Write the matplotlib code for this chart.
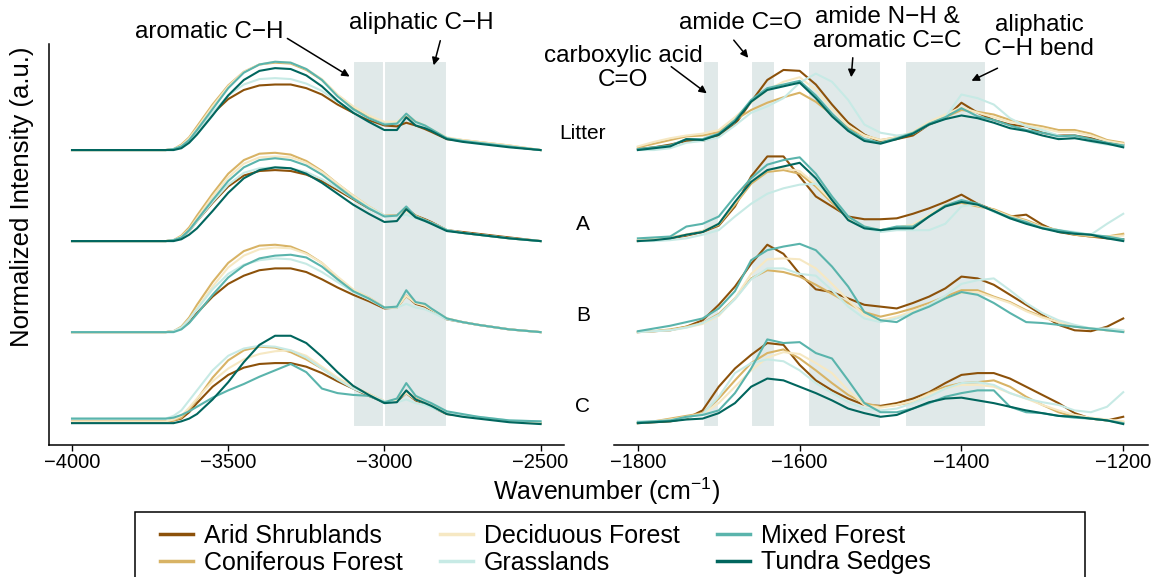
import matplotlib.pyplot as plt
from matplotlib.lines import Line2D
from matplotlib.patches import Rectangle, FancyArrowPatch

plt.rcParams['font.family'] = ['Liberation Sans', 'DejaVu Sans']
plt.rcParams['mathtext.fontset'] = 'custom'
plt.rcParams['mathtext.rm'] = 'Liberation Sans'

# ---- data -----------------------------------------------------------------
series = ['Arid Shrublands', 'Coniferous Forest', 'Deciduous Forest',
          'Grasslands', 'Mixed Forest', 'Tundra Sedges']
colors = ['#8C510A', '#D8B365', '#F6E8C3', '#C7EAE5', '#5AB4AC', '#01665E']
horizons = ['Litter', 'A', 'B', 'C']
offsets = [3, 2, 1, 0]

# high wavenumber region (O-H / C-H stretch)
wn_high = [-4000, -3700, -3675, -3650, -3625, -3600, -3550, -3500, -3450, -3400,
           -3350, -3300, -3250, -3200, -3150, -3100, -3050, -3000, -2960, -2930,
           -2900, -2870, -2850, -2800, -2750, -2700, -2600, -2500]

hi_litter_arid = [0, 0, 0.01, 0.04, 0.10, 0.20, 0.40, 0.56, 0.66, 0.71, 0.72, 0.72, 0.68, 0.61, 0.50, 0.41, 0.33, 0.27, 0.26, 0.30, 0.27, 0.23, 0.20, 0.12, 0.10, 0.08, 0.04, 0]
hi_litter_conif = [0, 0, 0.01, 0.06, 0.14, 0.26, 0.50, 0.71, 0.86, 0.94, 0.96, 0.95, 0.88, 0.77, 0.60, 0.47, 0.37, 0.30, 0.30, 0.38, 0.31, 0.26, 0.22, 0.13, 0.11, 0.09, 0.05, 0]
hi_litter_decid = [0, 0, 0.01, 0.05, 0.13, 0.24, 0.48, 0.70, 0.86, 0.94, 0.97, 0.96, 0.89, 0.78, 0.61, 0.48, 0.38, 0.31, 0.31, 0.39, 0.32, 0.27, 0.23, 0.14, 0.11, 0.09, 0.05, 0]
hi_litter_grass = [0, 0, 0.01, 0.04, 0.10, 0.20, 0.41, 0.60, 0.72, 0.78, 0.79, 0.78, 0.73, 0.65, 0.53, 0.43, 0.35, 0.29, 0.29, 0.35, 0.29, 0.25, 0.22, 0.13, 0.10, 0.08, 0.04, 0]
hi_litter_mixed = [0, 0, 0.01, 0.04, 0.11, 0.22, 0.45, 0.68, 0.85, 0.94, 0.97, 0.96, 0.89, 0.77, 0.59, 0.45, 0.35, 0.28, 0.29, 0.40, 0.31, 0.27, 0.23, 0.13, 0.10, 0.08, 0.04, 0]
hi_litter_tundra = [0, 0, 0.0, 0.02, 0.08, 0.17, 0.38, 0.60, 0.77, 0.87, 0.90, 0.89, 0.82, 0.70, 0.54, 0.41, 0.31, 0.22, 0.22, 0.36, 0.27, 0.24, 0.21, 0.12, 0.09, 0.07, 0.03, 0]

hi_a_arid = [0, 0, 0.01, 0.04, 0.11, 0.22, 0.42, 0.60, 0.72, 0.77, 0.78, 0.77, 0.73, 0.66, 0.56, 0.46, 0.36, 0.28, 0.28, 0.36, 0.28, 0.24, 0.21, 0.12, 0.10, 0.08, 0.04, 0]
hi_a_conif = [0, 0, 0.01, 0.06, 0.15, 0.28, 0.52, 0.74, 0.89, 0.96, 0.97, 0.95, 0.88, 0.77, 0.63, 0.50, 0.38, 0.28, 0.28, 0.35, 0.28, 0.23, 0.20, 0.12, 0.09, 0.07, 0.03, 0]
hi_a_decid = [0, 0, 0.01, 0.05, 0.13, 0.25, 0.49, 0.70, 0.85, 0.92, 0.93, 0.92, 0.86, 0.76, 0.63, 0.50, 0.38, 0.28, 0.28, 0.33, 0.27, 0.23, 0.20, 0.12, 0.09, 0.07, 0.03, 0]
hi_a_grass = [0, 0, 0.01, 0.04, 0.11, 0.22, 0.43, 0.62, 0.75, 0.80, 0.81, 0.80, 0.76, 0.68, 0.58, 0.47, 0.37, 0.28, 0.27, 0.29, 0.25, 0.22, 0.20, 0.12, 0.09, 0.07, 0.03, 0]
hi_a_mixed = [0, 0, 0.01, 0.04, 0.12, 0.23, 0.45, 0.66, 0.81, 0.89, 0.91, 0.89, 0.83, 0.73, 0.60, 0.47, 0.36, 0.27, 0.28, 0.38, 0.27, 0.23, 0.20, 0.12, 0.09, 0.07, 0.03, 0]
hi_a_tundra = [0, 0, 0.0, 0.02, 0.07, 0.14, 0.33, 0.53, 0.69, 0.78, 0.81, 0.80, 0.74, 0.64, 0.52, 0.40, 0.30, 0.21, 0.22, 0.35, 0.26, 0.22, 0.19, 0.11, 0.09, 0.07, 0.03, 0]

hi_b_arid = [0, 0, 0.01, 0.04, 0.11, 0.21, 0.39, 0.53, 0.62, 0.68, 0.70, 0.70, 0.66, 0.58, 0.49, 0.41, 0.34, 0.26, 0.27, 0.40, 0.31, 0.28, 0.24, 0.14, 0.11, 0.08, 0.03, 0]
hi_b_conif = [0, 0, 0.01, 0.06, 0.16, 0.30, 0.55, 0.76, 0.89, 0.95, 0.96, 0.94, 0.87, 0.76, 0.60, 0.46, 0.38, 0.27, 0.27, 0.40, 0.32, 0.30, 0.25, 0.15, 0.11, 0.08, 0.03, 0]
hi_b_decid = [0, 0, 0.01, 0.05, 0.14, 0.26, 0.50, 0.71, 0.84, 0.91, 0.93, 0.92, 0.86, 0.76, 0.61, 0.47, 0.38, 0.27, 0.27, 0.40, 0.32, 0.29, 0.25, 0.15, 0.11, 0.08, 0.03, 0]
hi_b_grass = [0, 0, 0.01, 0.05, 0.14, 0.25, 0.47, 0.64, 0.74, 0.79, 0.81, 0.80, 0.75, 0.66, 0.55, 0.44, 0.36, 0.27, 0.27, 0.31, 0.27, 0.25, 0.22, 0.14, 0.11, 0.08, 0.03, 0]
hi_b_mixed = [0, 0, 0.0, 0.03, 0.10, 0.20, 0.41, 0.60, 0.73, 0.81, 0.84, 0.85, 0.82, 0.72, 0.58, 0.45, 0.37, 0.27, 0.28, 0.46, 0.33, 0.31, 0.26, 0.15, 0.11, 0.08, 0.03, 0]

hi_c_arid = [0.02, 0.02, 0.03, 0.05, 0.12, 0.22, 0.40, 0.53, 0.61, 0.65, 0.66, 0.66, 0.62, 0.55, 0.46, 0.38, 0.30, 0.23, 0.24, 0.33, 0.25, 0.21, 0.18, 0.10, 0.08, 0.06, 0.02, 0]
hi_c_conif = [0.02, 0.02, 0.03, 0.06, 0.15, 0.26, 0.50, 0.69, 0.80, 0.84, 0.83, 0.78, 0.70, 0.60, 0.49, 0.40, 0.32, 0.24, 0.25, 0.35, 0.27, 0.22, 0.19, 0.11, 0.08, 0.06, 0.02, 0]
hi_c_decid = [0.02, 0.02, 0.04, 0.08, 0.17, 0.27, 0.46, 0.60, 0.70, 0.76, 0.79, 0.80, 0.74, 0.62, 0.50, 0.40, 0.32, 0.24, 0.25, 0.33, 0.26, 0.22, 0.19, 0.11, 0.08, 0.06, 0.02, 0]
hi_c_grass = [0.05, 0.05, 0.08, 0.14, 0.25, 0.36, 0.58, 0.74, 0.82, 0.85, 0.84, 0.80, 0.72, 0.60, 0.48, 0.38, 0.31, 0.24, 0.23, 0.26, 0.22, 0.20, 0.17, 0.11, 0.09, 0.07, 0.03, 0.02]
hi_c_mixed = [0.05, 0.05, 0.06, 0.09, 0.13, 0.18, 0.28, 0.36, 0.43, 0.51, 0.58, 0.65, 0.56, 0.38, 0.33, 0.31, 0.30, 0.23, 0.27, 0.44, 0.30, 0.25, 0.22, 0.13, 0.10, 0.07, 0.03, 0.02]
hi_c_tundra = [0, 0, 0.0, 0.02, 0.05, 0.10, 0.26, 0.45, 0.67, 0.86, 0.96, 0.96, 0.88, 0.73, 0.56, 0.41, 0.31, 0.22, 0.23, 0.36, 0.26, 0.22, 0.19, 0.10, 0.07, 0.05, 0.01, -0.01]

# fingerprint region
wn_low = [-1800, -1780, -1760, -1740, -1720, -1700, -1680, -1660, -1640, -1620,
          -1600, -1580, -1560, -1540, -1520, -1500, -1480, -1460, -1440, -1420,
          -1400, -1380, -1360, -1340, -1320, -1300, -1280, -1260, -1240, -1220, -1200]

lo_litter_arid = [0.01, 0.03, 0.06, 0.10, 0.10, 0.16, 0.28, 0.53, 0.77, 0.88, 0.87, 0.72, 0.50, 0.30, 0.17, 0.09, 0.12, 0.16, 0.28, 0.35, 0.52, 0.41, 0.33, 0.28, 0.26, 0.19, 0.16, 0.16, 0.13, 0.08, 0.06]
lo_litter_conif = [0.03, 0.07, 0.11, 0.15, 0.16, 0.20, 0.33, 0.44, 0.52, 0.58, 0.63, 0.53, 0.39, 0.24, 0.16, 0.11, 0.14, 0.19, 0.29, 0.36, 0.44, 0.42, 0.39, 0.33, 0.29, 0.26, 0.22, 0.22, 0.18, 0.11, 0.08]
lo_litter_decid = [0.04, 0.09, 0.13, 0.16, 0.18, 0.22, 0.36, 0.52, 0.66, 0.75, 0.80, 0.66, 0.45, 0.27, 0.16, 0.11, 0.14, 0.20, 0.31, 0.39, 0.47, 0.41, 0.36, 0.31, 0.27, 0.24, 0.20, 0.20, 0.16, 0.10, 0.07]
lo_litter_grass = [0.0, 0.0, 0.02, 0.08, 0.10, 0.14, 0.27, 0.41, 0.48, 0.57, 0.74, 0.84, 0.75, 0.55, 0.28, 0.19, 0.16, 0.18, 0.28, 0.36, 0.61, 0.57, 0.50, 0.35, 0.26, 0.22, 0.16, 0.14, 0.09, 0.06, 0.05]
lo_litter_mixed = [0.01, 0.03, 0.05, 0.12, 0.12, 0.18, 0.33, 0.55, 0.68, 0.72, 0.76, 0.60, 0.40, 0.23, 0.12, 0.08, 0.13, 0.19, 0.29, 0.36, 0.46, 0.37, 0.33, 0.27, 0.22, 0.19, 0.15, 0.16, 0.12, 0.08, 0.05]
lo_litter_tundra = [0.0, 0.02, 0.04, 0.12, 0.11, 0.17, 0.31, 0.53, 0.66, 0.70, 0.74, 0.57, 0.37, 0.21, 0.10, 0.07, 0.12, 0.18, 0.28, 0.34, 0.38, 0.35, 0.30, 0.24, 0.21, 0.16, 0.12, 0.13, 0.10, 0.07, 0.03]

lo_a_arid = [0.0, 0.01, 0.03, 0.06, 0.10, 0.17, 0.38, 0.71, 0.93, 0.93, 0.71, 0.49, 0.38, 0.27, 0.24, 0.24, 0.25, 0.30, 0.36, 0.43, 0.51, 0.41, 0.34, 0.27, 0.29, 0.18, 0.10, 0.07, 0.05, 0.03, 0.02]
lo_a_conif = [0.01, 0.02, 0.04, 0.07, 0.11, 0.18, 0.40, 0.63, 0.76, 0.78, 0.74, 0.60, 0.42, 0.25, 0.15, 0.12, 0.15, 0.17, 0.28, 0.39, 0.42, 0.38, 0.35, 0.28, 0.23, 0.16, 0.12, 0.07, 0.05, 0.05, 0.08]
lo_a_decid = [0.01, 0.02, 0.04, 0.07, 0.11, 0.19, 0.42, 0.65, 0.78, 0.80, 0.77, 0.62, 0.44, 0.26, 0.16, 0.12, 0.15, 0.18, 0.29, 0.40, 0.44, 0.39, 0.34, 0.27, 0.22, 0.15, 0.11, 0.08, 0.06, 0.05, 0.06]
lo_a_grass = [0.0, 0.0, 0.01, 0.03, 0.07, 0.12, 0.27, 0.41, 0.52, 0.58, 0.62, 0.63, 0.49, 0.27, 0.14, 0.10, 0.12, 0.12, 0.12, 0.19, 0.38, 0.41, 0.32, 0.25, 0.20, 0.15, 0.12, 0.10, 0.07, 0.19, 0.30]
lo_a_mixed = [0.03, 0.04, 0.05, 0.16, 0.19, 0.27, 0.49, 0.69, 0.84, 0.89, 0.92, 0.74, 0.49, 0.27, 0.16, 0.12, 0.16, 0.16, 0.27, 0.39, 0.45, 0.41, 0.33, 0.26, 0.21, 0.14, 0.12, 0.09, 0.07, 0.05, 0.02]
lo_a_tundra = [0.0, 0.01, 0.03, 0.07, 0.10, 0.19, 0.43, 0.65, 0.78, 0.82, 0.86, 0.69, 0.45, 0.23, 0.14, 0.12, 0.14, 0.14, 0.27, 0.38, 0.43, 0.40, 0.33, 0.25, 0.19, 0.14, 0.10, 0.08, 0.07, 0.03, 0.0]

lo_b_arid = [0.0, 0.01, 0.02, 0.06, 0.13, 0.30, 0.50, 0.75, 0.96, 0.86, 0.64, 0.47, 0.44, 0.37, 0.30, 0.28, 0.26, 0.32, 0.39, 0.48, 0.61, 0.59, 0.52, 0.41, 0.30, 0.19, 0.08, 0.02, 0.01, 0.06, 0.15]
lo_b_conif = [0.0, 0.01, 0.03, 0.06, 0.10, 0.20, 0.37, 0.59, 0.68, 0.66, 0.61, 0.52, 0.42, 0.32, 0.22, 0.17, 0.21, 0.26, 0.32, 0.39, 0.46, 0.46, 0.39, 0.33, 0.24, 0.17, 0.11, 0.06, 0.04, 0.02, 0.01]
lo_b_decid = [0.0, 0.01, 0.02, 0.05, 0.09, 0.18, 0.37, 0.64, 0.80, 0.81, 0.80, 0.70, 0.53, 0.35, 0.19, 0.13, 0.17, 0.23, 0.30, 0.37, 0.43, 0.44, 0.38, 0.32, 0.23, 0.16, 0.11, 0.07, 0.04, 0.02, 0.01]
lo_b_grass = [0.0, 0.01, 0.02, 0.05, 0.10, 0.19, 0.36, 0.58, 0.70, 0.70, 0.64, 0.62, 0.46, 0.28, 0.15, 0.11, 0.15, 0.21, 0.30, 0.40, 0.53, 0.57, 0.59, 0.46, 0.32, 0.21, 0.13, 0.08, 0.04, 0.04, 0.02]
lo_b_mixed = [0.01, 0.04, 0.07, 0.11, 0.15, 0.26, 0.45, 0.79, 0.90, 0.94, 0.97, 0.90, 0.72, 0.50, 0.22, 0.13, 0.11, 0.21, 0.28, 0.37, 0.44, 0.41, 0.32, 0.21, 0.11, 0.10, 0.08, 0.06, 0.04, 0.02, 0.0]

lo_c_arid = [0.0, 0.01, 0.02, 0.05, 0.14, 0.40, 0.60, 0.75, 0.88, 0.86, 0.64, 0.47, 0.36, 0.27, 0.20, 0.19, 0.22, 0.27, 0.34, 0.44, 0.53, 0.55, 0.55, 0.49, 0.40, 0.31, 0.22, 0.11, 0.05, 0.03, 0.07]
lo_c_conif = [0.0, 0.02, 0.05, 0.08, 0.11, 0.27, 0.47, 0.66, 0.77, 0.81, 0.71, 0.58, 0.44, 0.31, 0.22, 0.18, 0.20, 0.23, 0.33, 0.40, 0.44, 0.45, 0.47, 0.40, 0.29, 0.20, 0.12, 0.07, 0.05, 0.03, 0.01]
lo_c_decid = [0.0, 0.02, 0.04, 0.07, 0.10, 0.22, 0.40, 0.58, 0.72, 0.78, 0.76, 0.66, 0.55, 0.36, 0.20, 0.17, 0.20, 0.24, 0.32, 0.38, 0.42, 0.42, 0.40, 0.33, 0.27, 0.20, 0.14, 0.09, 0.06, 0.04, 0.02]
lo_c_grass = [0.02, 0.02, 0.03, 0.06, 0.10, 0.29, 0.55, 0.66, 0.70, 0.68, 0.58, 0.44, 0.33, 0.23, 0.16, 0.14, 0.16, 0.22, 0.29, 0.38, 0.44, 0.45, 0.42, 0.33, 0.27, 0.23, 0.20, 0.14, 0.12, 0.18, 0.34]
lo_c_mixed = [0.01, 0.02, 0.03, 0.07, 0.09, 0.14, 0.33, 0.60, 0.92, 0.88, 0.89, 0.77, 0.71, 0.47, 0.22, 0.12, 0.12, 0.16, 0.22, 0.29, 0.33, 0.36, 0.36, 0.18, 0.12, 0.11, 0.08, 0.06, 0.05, 0.03, 0.0]
lo_c_tundra = [0.0, 0.01, 0.02, 0.04, 0.05, 0.11, 0.22, 0.40, 0.49, 0.47, 0.40, 0.33, 0.25, 0.16, 0.11, 0.07, 0.09, 0.16, 0.23, 0.27, 0.28, 0.25, 0.22, 0.18, 0.14, 0.11, 0.08, 0.07, 0.05, 0.03, -0.01]

# shaded band limits (wavenumber)
bands_high = [(-3100, -3000), (-3000, -2800)]
bands_low = [(-1720, -1700), (-1660, -1630), (-1590, -1500), (-1470, -1370)]

# one list per horizon, in series order (no Tundra Sedges B horizon)
high = {
    'Litter': [hi_litter_arid, hi_litter_conif, hi_litter_decid, hi_litter_grass, hi_litter_mixed, hi_litter_tundra],
    'A': [hi_a_arid, hi_a_conif, hi_a_decid, hi_a_grass, hi_a_mixed, hi_a_tundra],
    'B': [hi_b_arid, hi_b_conif, hi_b_decid, hi_b_grass, hi_b_mixed, None],
    'C': [hi_c_arid, hi_c_conif, hi_c_decid, hi_c_grass, hi_c_mixed, hi_c_tundra],
}
low = {
    'Litter': [lo_litter_arid, lo_litter_conif, lo_litter_decid, lo_litter_grass, lo_litter_mixed, lo_litter_tundra],
    'A': [lo_a_arid, lo_a_conif, lo_a_decid, lo_a_grass, lo_a_mixed, lo_a_tundra],
    'B': [lo_b_arid, lo_b_conif, lo_b_decid, lo_b_grass, lo_b_mixed, None],
    'C': [lo_c_arid, lo_c_conif, lo_c_decid, lo_c_grass, lo_c_mixed, lo_c_tundra],
}

# ---- figure ---------------------------------------------------------------
W, H = 1160, 577
fig = plt.figure(figsize=(W / 100, H / 100), dpi=100)


def fx(x):
    return x / W


def fy(y):
    return 1 - y / H


ax1 = fig.add_axes([fx(48.6), fy(445), fx(564) - fx(48.6), (445 - 44) / H])
ax2 = fig.add_axes([fx(613.6), fy(445), fx(1147.5) - fx(613.6), (445 - 44) / H])

band_col = '#e0e9e9'
for ax, wn, data, bands, xlim, ticks in [
        (ax1, wn_high, high, bands_high, (-4075, -2425), [-4000, -3500, -3000, -2500]),
        (ax2, wn_low, low, bands_low, (-1830, -1170), [-1800, -1600, -1400, -1200])]:
    for x0, x1 in bands:
        ax.fill_between([x0, x1], -0.04, 3.98, color=band_col, lw=1.5,
                        edgecolor='white', zorder=0)
    for hz, off in zip(horizons, offsets):
        for col, vals in zip(colors, data[hz]):
            if vals is None:
                continue
            ax.plot(wn, [v + off for v in vals], color=col, lw=1.5, zorder=2)
    ax.set_xlim(*xlim)
    ax.set_ylim(-0.24, 4.165)
    ax.set_xticks(ticks)
    ax.set_yticks([])
    ax.tick_params(axis='x', labelsize=14.5, length=4, width=1, pad=2, color='black')
    for s in ['top', 'right']:
        ax.spines[s].set_visible(False)
    ax.spines['bottom'].set_linewidth(1.1)

ax1.spines['left'].set_linewidth(1.1)
ax2.spines['left'].set_visible(False)

# horizon labels
for hz, off in zip(horizons, offsets):
    ax2.text(-1868, off + 0.18, hz, fontsize=15, ha='center', va='center', clip_on=False)

# axis titles
fig.text(fx(607), fy(491), 'Wavenumber (cm$^{-1}$)', fontsize=18, ha='center', va='center')
fig.text(fx(22), fy(197), 'Normalized Intensity (a.u.)', fontsize=18.5,
         ha='center', va='center', rotation=90)

# band annotations
notes = [
    ('aromatic C\u2212H', (209, 32), (285, 37), (352, 78)),
    ('aliphatic C\u2212H', (421, 23), (441, 38), (433, 68)),
    ('carboxylic acid\nC=O', (623, 68), (669, 65), (709, 95)),
    ('amide C=O', (740, 23), (732, 38), (750, 60)),
    ('amide N\u2212H &\naromatic C=C', (887, 29), (853, 55), (851, 80)),
    ('aliphatic\nC\u2212H bend', (1039, 37), (1000, 67), (969, 82)),
]
for label, (tx, ty), (ax0, ay0), (ax1_, ay1) in notes:
    fig.text(fx(tx), fy(ty), label, fontsize=17.5, ha='center', va='center',
             linespacing=1.1)
    fig.add_artist(FancyArrowPatch((fx(ax0), fy(ay0)), (fx(ax1_), fy(ay1)),
                                   transform=fig.transFigure, arrowstyle='-|>',
                                   mutation_scale=11, lw=1.1, color='black'))

# legend
handles = [Line2D([0], [0], color=c, lw=2.5) for c in colors]
fig.legend(handles, series, ncol=3, loc='upper left',
           bbox_to_anchor=(fx(160), fy(524)), frameon=False, fontsize=18,
           handlelength=1.3, handletextpad=0.45, columnspacing=1.5,
           labelspacing=0.1, borderpad=0, borderaxespad=0)
fig.add_artist(Rectangle((fx(135), fy(600)), fx(1085) - fx(135), (600 - 512) / H,
                         transform=fig.transFigure, fill=False,
                         edgecolor='black', lw=1.1))

fig.savefig('out.png', dpi=100)
